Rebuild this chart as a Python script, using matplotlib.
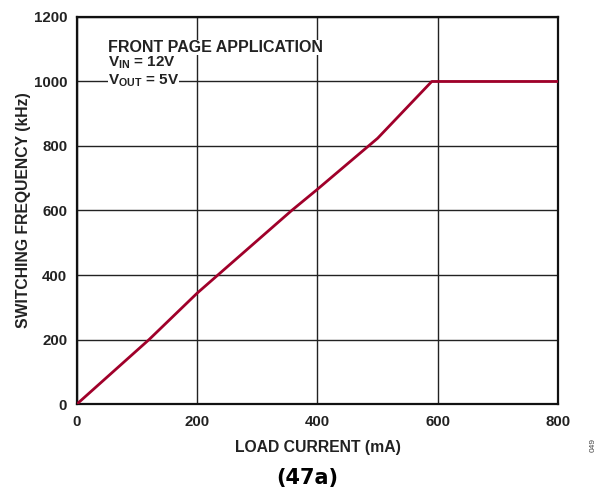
import matplotlib
matplotlib.use('Agg')
import matplotlib.pyplot as plt

# data
load_ma = [0, 120, 200, 357, 400, 500, 590, 800]
freq_khz = [0, 200, 344, 600, 666, 824, 1000, 1000]
x_ticks = [0, 200, 400, 600, 800]
y_ticks = [0, 200, 400, 600, 800, 1000, 1200]

plt.rcParams['font.family'] = ['Liberation Sans', 'DejaVu Sans']
plt.rcParams['mathtext.fontset'] = 'custom'
plt.rcParams['mathtext.bf'] = 'Liberation Sans:bold'
plt.rcParams['mathtext.rm'] = 'Liberation Sans:bold'

fig = plt.figure(figsize=(5.99, 4.95), dpi=100)
ax = fig.add_axes([0.1285, 0.1838, 0.8031, 0.7819])

ax.plot(load_ma, freq_khz, color='#a0002a', linewidth=2.0, solid_capstyle='butt', zorder=3)

ax.set_xlim(0, 800)
ax.set_ylim(0, 1200)
ax.set_xticks(x_ticks)
ax.set_yticks(y_ticks)
ax.grid(True, color='#222222', linewidth=1.0)
ax.set_axisbelow(True)
ax.tick_params(axis='y', length=0, pad=7, labelsize=10.8, colors='#222222')
ax.tick_params(axis='x', length=0, pad=8, labelsize=10.8, colors='#222222')
for lab in ax.get_xticklabels() + ax.get_yticklabels():
    lab.set_fontweight('bold')
for sp in ax.spines.values():
    sp.set_linewidth(1.6)
    sp.set_color('#111111')

ax.set_xlabel('LOAD CURRENT (mA)', fontsize=11.3, fontweight='bold', color='#222222', labelpad=7.5)
ax.set_ylabel('SWITCHING FREQUENCY (kHz)', fontsize=11.3, fontweight='bold', color='#222222', labelpad=2)

# annotation block, each line with its own white box (it hides the grid)
box = dict(facecolor='white', edgecolor='none', pad=0.0)
ax.text(52, 1106, 'FRONT PAGE APPLICATION', fontsize=11.5, fontweight='bold',
        color='#222222', va='center', ha='left', bbox=box, zorder=4)
ax.text(52, 1057, r'$\mathbf{V_{IN}}$ = 12V', fontsize=11, fontweight='bold',
        color='#222222', va='center', ha='left', bbox=box, zorder=4)
ax.text(52, 1001, r'$\mathbf{V_{OUT}}$ = 5V', fontsize=11, fontweight='bold',
        color='#222222', va='center', ha='left', bbox=box, zorder=4)

fig.text(0.513, 0.034, '(47a)', fontsize=15, fontweight='bold', ha='center', va='center',
         family='DejaVu Sans')
fig.text(0.99, 0.10, '049', fontsize=6, rotation=90, ha='center', va='center', color='#444444')

fig.savefig('out.png', dpi=100)
